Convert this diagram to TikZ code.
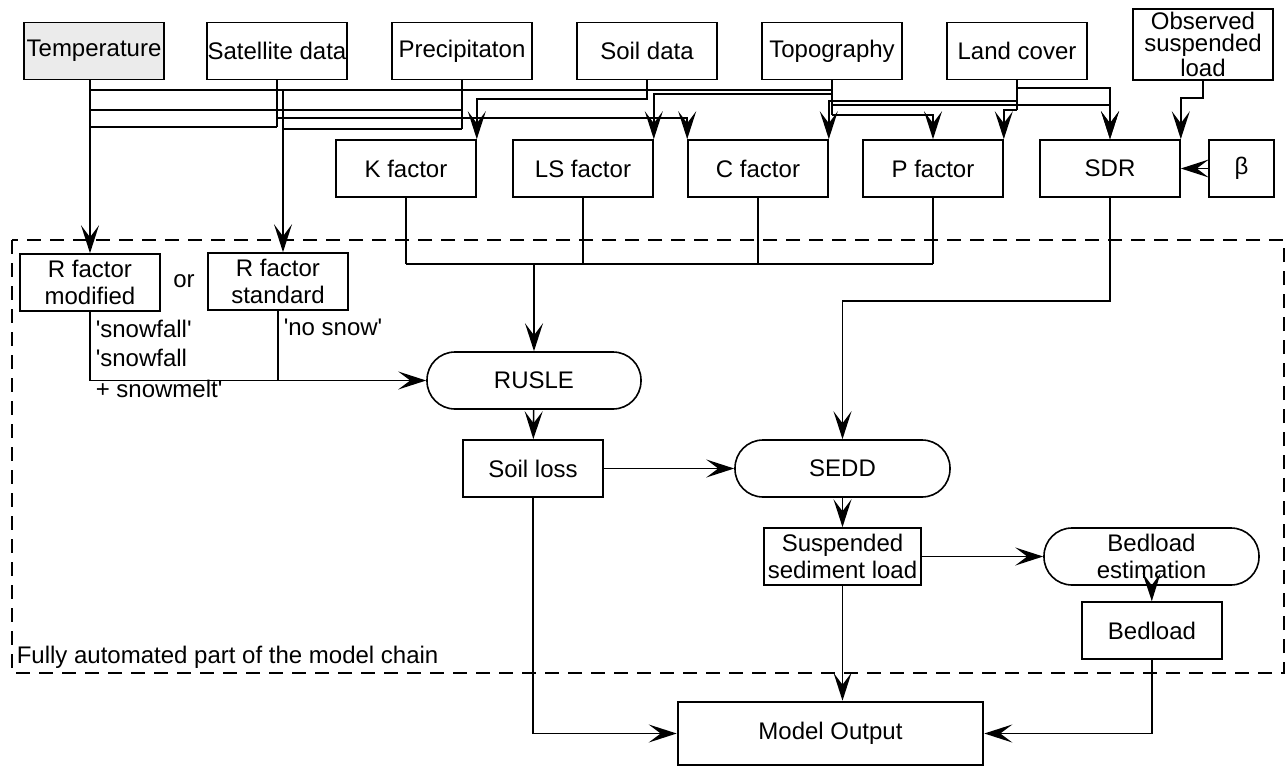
\documentclass[tikz,border=0pt]{standalone}
\usepackage{fontspec}
\setmainfont{Liberation Sans}
\usetikzlibrary{arrows.meta,calc}
\newcommand{\sq}{\textquotesingle}

\begin{document}
\begin{tikzpicture}[
    x=0.5pt, y=-0.5pt,
    line width=0.8pt,
    font=\fontsize{12}{13.5}\selectfont,
    box/.style={draw, minimum width=70pt, minimum height=28.5pt, inner sep=0pt, align=center},
    pill/.style={box, rounded corners=14pt, minimum width=107pt},
    arr/.style={-{Stealth[length=14pt,width=9pt,inset=6pt]}},
    zone/.style={dash pattern=on 7pt off 4.5pt, line width=1.3pt},
    lbl/.style={anchor=west, inner sep=0pt}
]
    \useasboundingbox (0,0) rectangle (1287,766);
    % automated part
    \draw[zone] (12,240) rectangle (1284,673);
    \node[lbl] (zonelbl) at (16,657) {Fully automated part of the model chain};

    % input data
    \node[box, fill=black!8] (temp) at (94,51) {Temperature};
    \node[box] (sat) at (277,51) {Satellite data};
    \node[box] (prec) at (462,51) {Precipitaton};
    \node[box] (soil) at (647,51) {Soil data};
    \node[box] (topo) at (832,51) {Topography};
    \node[box] (land) at (1017,51) {Land cover};
    \node[box, minimum height=35.5pt, font=\fontsize{12}{11}\selectfont] (obs) at (1203,44.5) {Observed\\suspended\\load};

    % factors
    \node[box] (kf) at (406,168.5) {K factor};
    \node[box] (lsf) at (583,168.5) {LS factor};
    \node[box] (cf) at (758,168.5) {C factor};
    \node[box] (pf) at (933,168.5) {P factor};
    \node[box] (sdr) at (1110,168.5) {SDR};
    \node[box, minimum width=32.5pt] (beta) at (1241.5,168.5) {β};

    \node[box] (rmod) at (90,282.5) {R factor\\modified};
    \node[box] (rstd) at (278,281.5) {R factor\\standard};
    \node (ortxt) at (184,281) {or};

    % model chain
    \node[pill] (rusle) at (534,380.5) {RUSLE};
    \node[box] (sloss) at (533,468.5) {Soil loss};
    \node[pill, minimum width=107.5pt] (sedd) at (842.5,468.5) {SEDD};
    \node[box, minimum width=78.5pt] (susp) at (842.5,556.5) {Suspended\\sediment load};
    \node[pill, minimum width=107.5pt] (bedest) at (1151.5,556.5) {Bedload\\estimation};
    \node[box] (bedld) at (1152,630.5) {Bedload};
    \node[box, line width=1.3pt, minimum width=152.5pt, minimum height=31.5pt] (mout) at (830.5,733.5) {Model Output};

    \node[lbl] (snowa) at (95,329) {\sq snowfall\sq};
    \node[lbl] (snowb) at (95,358) {\sq snowfall};
    \node[lbl] (snowc) at (95,389) {+ snowmelt\sq};
    \node[lbl] (nosnow) at (283,327) {\sq no snow\sq};

    % levels of the feeder lines
    \coordinate (ySD) at (0,88);
    \coordinate (yB) at (0,90);
    \coordinate (yLS) at (0,94);
    \coordinate (yOB) at (0,98);
    \coordinate (yK) at (0,99);
    \coordinate (yLC) at (0,101);
    \coordinate (yTS) at (0,105);
    \coordinate (yC) at (0,110);
    \coordinate (yLP) at (0,110);
    \coordinate (yTP) at (0,115);
    \coordinate (yF) at (0,118);
    \coordinate (yD) at (0,127);
    \coordinate (yH) at (0,129);
    \coordinate (yBus) at (0,264);
    \coordinate (ySE) at (0,301);
    \coordinate (gx) at ($(rstd.north)+(5,0)$);

    % inputs to R factors
    \draw[arr] (temp.south -| rmod) -- (rmod.north);
    \draw (yB -| rmod) -- (yB -| topo);
    \draw (yC -| rmod) -- (yC -| prec);
    \draw (yD -| rmod) -- (yD -| sat);
    \draw (sat.south) -- (yD -| sat);
    \draw (prec.south) -- (yH -| prec);
    \draw[arr] (yB -| gx) -- (gx);
    \draw (yH -| gx) -- (yH -| prec);

    % inputs to factors
    \draw[arr] (sat.south |- yF) -| (cf.north west);
    \draw[arr] (soil.south) -- (soil.south |- yK) -| (kf.north east);
    \draw (topo.south) -- (topo.south |- yTP);
    \draw[arr] (topo.south |- yLS) -| (lsf.north east);
    \draw[arr] (topo.south |- yTS) -| (sdr.north);
    \draw[arr] (topo.south |- yTP) -| (pf.north);
    \draw (land.south) -- (land.south |- yLP);
    \draw[arr] (land.south |- yLC) -| (cf.north east);
    \draw[arr] (land.south |- ySD) -| (sdr.north);
    \draw[arr] (land.south |- yLP) -| (pf.north east);
    \draw[arr] (obs.south) -- (obs.south |- yOB) -| (sdr.north east);
    \draw[arr] (beta) -- (sdr);

    % factors to RUSLE
    \foreach \fac in {kf,lsf,cf,pf}
        \draw (\fac.south) -- (\fac.south |- yBus);
    \draw (yBus -| kf) -- (yBus -| pf);
    \draw[arr] (yBus -| rusle) -- (rusle.north);
    \draw[arr] (rmod.south) |- (rusle.west);
    \draw (rstd.south) -- (rstd.south |- rusle.west);

    % chain
    \draw[arr] (rusle) -- (sloss);
    \draw[arr] (sloss) -- (sedd);
    \draw[arr] (sdr.south) -- (sdr.south |- ySE) -| (sedd.north);
    \draw[arr] (sedd) -- (susp);
    \draw[arr] (susp) -- (bedest);
    \draw[arr] (bedest) -- (bedld);
    \draw[arr] (sloss.south) |- (mout.west);
    \draw[arr] (susp.south) -- (susp.south |- mout.north);
    \draw[arr] (bedld.south) |- (mout.east);
\end{tikzpicture}
\end{document}
